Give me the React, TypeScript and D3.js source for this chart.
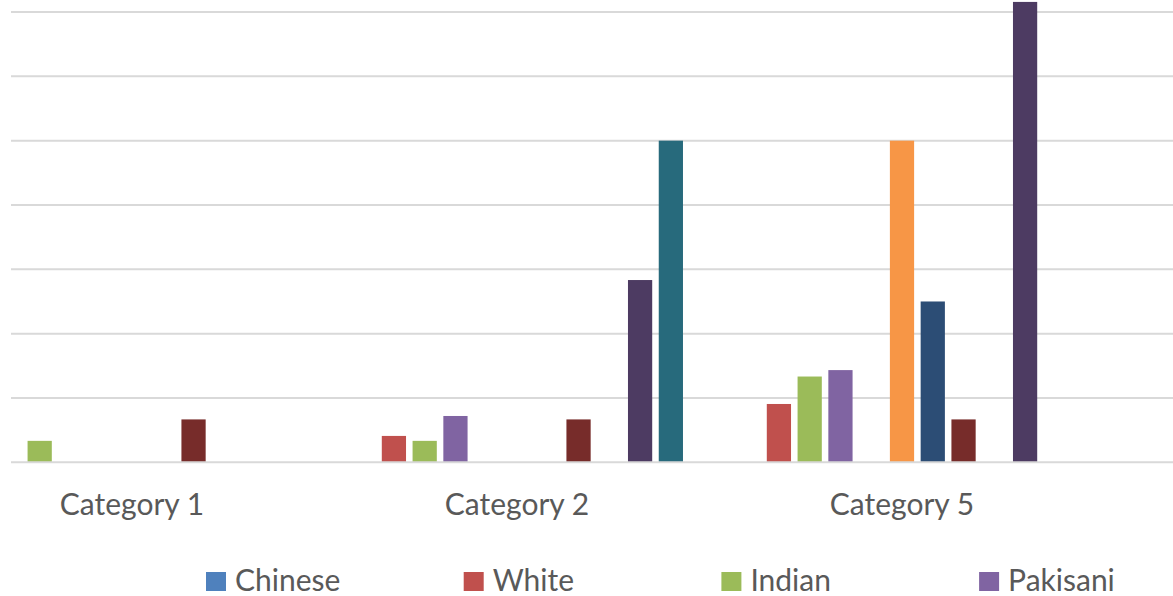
import React from "react";
import * as d3 from "d3";

// Categories along the x axis
const categories = ["Category 1", "Category 2", "Category 5"];

// Series names (legend order) and their values per category
const seriesNames = [
  "Chinese",
  "White",
  "Indian",
  "Pakisani",
  "Series 5",
  "Series 6",
  "Series 7",
  "Series 8",
  "Series 9",
  "Series 10",
  "Series 11",
];

const chinese = [0, 0, 0];
const white = [0, 1.23, 2.72];
const indian = [1, 1, 4];
const pakisani = [0, 2.16, 4.3];
const series5 = [0, 0, 0];
const series6 = [0, 0, 15];
const series7 = [0, 0, 7.5];
const series8 = [2, 2, 2];
const series9 = [0, 0, 0];
const series10 = [0, 8.5, 21.47];
const series11 = [0, 15, 0];

const seriesValues = [
  chinese,
  white,
  indian,
  pakisani,
  series5,
  series6,
  series7,
  series8,
  series9,
  series10,
  series11,
];

// Gridline ticks
const yTicks = [0, 3, 6, 9, 12, 15, 18, 21];

// Office palette
const colors = [
  "#4F81BD",
  "#C0504D",
  "#9BBB59",
  "#8064A2",
  "#4BACC6",
  "#F79646",
  "#2C4D75",
  "#772C2A",
  "#5F7530",
  "#4D3B62",
  "#276A7C",
];

const W = 1173;
const H = 596;
const FONT = "Lato, 'Open Sans', sans-serif";

export default function App() {
  const x0 = d3
    .scaleBand<string>()
    .domain(categories)
    .range([-60.5, 1094.5])
    .paddingInner(0)
    .paddingOuter(0);

  const x1 = d3
    .scaleBand<number>()
    .domain(d3.range(seriesNames.length))
    .range([0, x0.bandwidth()])
    .paddingInner(0.2126)
    .paddingOuter(0.862);

  const y = d3.scaleLinear().domain([0, 21]).range([462.3, 12]);

  const legendItems = seriesNames.slice(0, 4);
  const legendStart = 206;
  const legendStep = 257.7;

  return (
    <svg
      width={W}
      height={H}
      style={{ position: "absolute", left: 0, top: 0, background: "#fff" }}
    >
      {/* horizontal gridlines */}
      {yTicks
        .filter((t) => t !== 0)
        .map((t) => (
          <line
            key={t}
            x1={11}
            x2={W}
            y1={y(t)}
            y2={y(t)}
            stroke="#D9D9D9"
            strokeWidth={2}
          />
        ))}

      {/* bars */}
      {categories.map((cat, ci) => (
        <g key={cat} transform={`translate(${x0(cat)},0)`}>
          {seriesValues.map((vals, si) =>
            vals[ci] > 0 ? (
              <rect
                key={si}
                x={x1(si)}
                width={x1.bandwidth()}
                y={y(vals[ci])}
                height={y(0) - y(vals[ci])}
                fill={colors[si]}
              />
            ) : null
          )}
        </g>
      ))}

      {/* category axis line */}
      <line x1={11} x2={W} y1={y(0)} y2={y(0)} stroke="#D9D9D9" strokeWidth={2} />

      {/* category labels */}
      {categories.map((cat) => (
        <text
          key={cat}
          x={(x0(cat) as number) + x0.bandwidth() / 2}
          y={515}
          textAnchor="middle"
          fontFamily={FONT}
          fontSize={30}
          fill="#595959"
        >
          {cat}
        </text>
      ))}

      {/* legend */}
      {legendItems.map((name, i) => {
        const lx = legendStart + i * legendStep;
        return (
          <g key={name}>
            <rect x={lx} y={572} width={20} height={19} fill={colors[i]} />
            <text
              x={lx + 29}
              y={591}
              fontFamily={FONT}
              fontSize={30}
              fill="#595959"
            >
              {name}
            </text>
          </g>
        );
      })}
    </svg>
  );
}
